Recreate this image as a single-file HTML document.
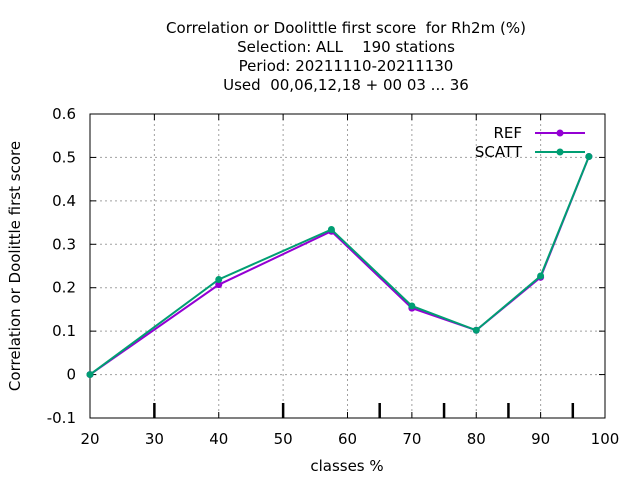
<!DOCTYPE html>
<html><head><meta charset="utf-8"><style>
body{margin:0;background:#fff}
svg text{font-family:"DejaVu Sans","Liberation Sans",sans-serif;font-size:15px;fill:#000}
</style></head><body>
<svg id="c" width="640" height="480" xmlns="http://www.w3.org/2000/svg">
<g id="title" text-anchor="middle">
<text x="346" y="33" xml:space="preserve">Correlation or Doolittle first score  for Rh2m (%)</text>
<text x="346" y="52" xml:space="preserve">Selection: ALL    190 stations</text>
<text x="346" y="71">Period: 20211110-20211130</text>
<text x="346" y="90" xml:space="preserve">Used  00,06,12,18 + 00 03 ... 36</text>
</g>
<text transform="translate(20,266) rotate(-90)" text-anchor="middle">Correlation or Doolittle first score</text>
<text x="347" y="471" text-anchor="middle">classes %</text>
<g id="grid"></g><g id="axes"></g><g id="series"></g><g id="legend"></g>
</svg>
<script>
const xTicks=[20,30,40,50,60,70,80,90,100];
const yTicks=[-0.1,0,0.1,0.2,0.3,0.4,0.5,0.6];
const extraTicks=[30,50,65,75,85,95];
const classes=[20,40,57.5,70,80,90,97.5];
const refValues=[0,0.207,0.330,0.153,0.102,0.224,0.502];
const scattValues=[0,0.219,0.334,0.158,0.102,0.227,0.502];
const L=90,R=605,T=114,B=418;
const sx=v=>L+(v-20)/80*(R-L);
const sy=v=>B-(v+0.1)/0.7*(B-T);
const NS="http://www.w3.org/2000/svg";
function mk(tag,attrs,parent){const e=document.createElementNS(NS,tag);for(const k in attrs)e.setAttribute(k,attrs[k]);parent.appendChild(e);return e;}
const grid=document.getElementById('grid'),axes=document.getElementById('axes'),series=document.getElementById('series'),legend=document.getElementById('legend');
xTicks.forEach(v=>{
  if(v>20&&v<100){const g=mk('line',{x1:sx(v),x2:sx(v),y1:T,y2:B,stroke:'#a0a0a0','stroke-dasharray':'2,3'},grid);
  
  }
  const t=mk('line',{x1:sx(v),x2:sx(v),y1:B,y2:B-6,stroke:'#000'},axes);
  
  
  const t2=mk('line',{x1:sx(v),x2:sx(v),y1:T,y2:T+6,stroke:'#000'},axes);
  
  
  const l=mk('text',{x:sx(v),y:B+26,'text-anchor':'middle'},axes);l.textContent=v;
  
  
});
yTicks.forEach(v=>{
  if(v>-0.1&&v<0.6){const g=mk('line',{x1:L,x2:R,y1:sy(v),y2:sy(v),stroke:'#a0a0a0','stroke-dasharray':'2,3'},grid);
  
  }
  const t=mk('line',{x1:L,x2:L+6,y1:sy(v),y2:sy(v),stroke:'#000'},axes);
  
  
  const t2=mk('line',{x1:R,x2:R-6,y1:sy(v),y2:sy(v),stroke:'#000'},axes);
  
  
  const l=mk('text',{x:L-14,y:sy(v)+5,'text-anchor':'end'},axes);l.textContent=(Math.round(v*10)/10).toString();
  
  
});
extraTicks.forEach(v=>{
  const t=mk('line',{x1:sx(v),x2:sx(v),y1:B-15,y2:B,stroke:'#000','stroke-width':2.5},axes);
  
  
});
const fr=mk('rect',{x:L,y:T,width:R-L,height:B-T,fill:'none',stroke:'#000','stroke-width':1},axes);


function drawSeries(vals,color,name){
  const pts=classes.map((c,i)=>sx(c)+','+sy(vals[i])).join(' ');
  const pl=mk('polyline',{points:pts,fill:'none',stroke:color,'stroke-width':2},series);
  
  
  classes.forEach((c,i)=>{
    const p=mk('circle',{cx:sx(c),cy:sy(vals[i]),r:3.5,fill:color},series);
    
    
  });
}
drawSeries(refValues,'#9400d3','ref');
drawSeries(scattValues,'#009e73','scatt');
[['REF','#9400d3',133],['SCATT','#009e73',152]].forEach(([n,c,y])=>{
  const g=mk('g',{},legend);
  
  
  const t=mk('text',{x:522,y:y+5,'text-anchor':'end'},g);t.textContent=n;
  mk('line',{x1:535,x2:585,y1:y,y2:y,stroke:c,'stroke-width':2},g);
  mk('circle',{cx:560,cy:y,r:3.5,fill:c},g);
});
</script>
</body></html>
